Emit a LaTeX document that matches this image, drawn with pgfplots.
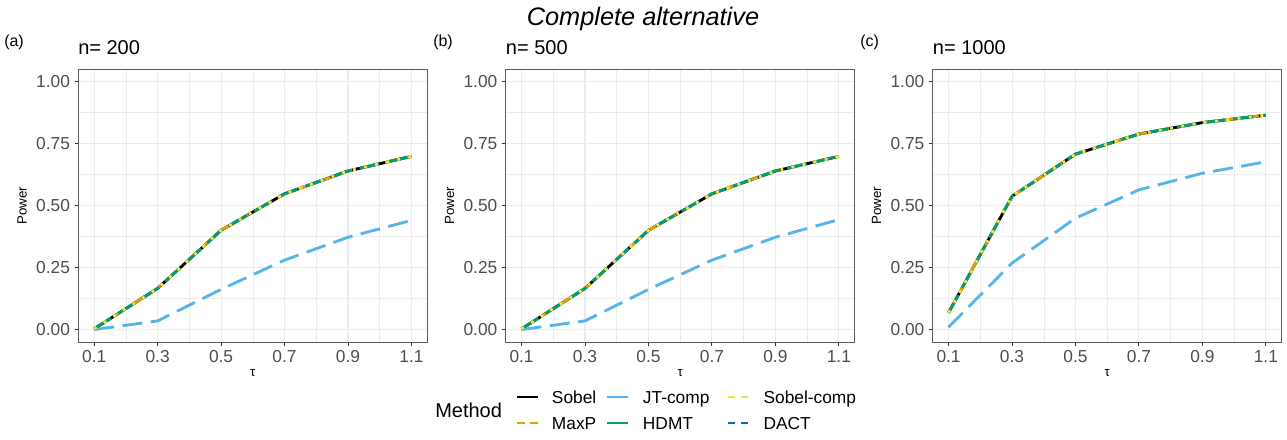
\documentclass[border=0pt]{standalone}
\usepackage{pgfplots}
\pgfplotsset{compat=1.18}
\usepackage{pgfplotstable}
\usepackage{fontspec}
\setmainfont{Liberation Sans}

\definecolor{cMaxP}{HTML}{E69F00}
\definecolor{cJT}{HTML}{56B4E9}
\definecolor{cHDMT}{HTML}{009E73}
\definecolor{cSC}{HTML}{F0E442}
\definecolor{cDACT}{HTML}{0072B2}
\definecolor{grey92}{HTML}{EBEBEB}
\definecolor{grey20}{HTML}{333333}
\definecolor{grey30}{HTML}{4D4D4D}

% n = 200
\pgfplotstableread{
tau sobel maxp jt hdmt sobelcomp dact
0.1 0.003 0.003 0.000 0.003 0.003 0.003
0.3 0.166 0.166 0.035 0.166 0.166 0.166
0.5 0.400 0.400 0.162 0.400 0.400 0.400
0.7 0.547 0.547 0.280 0.547 0.547 0.547
0.9 0.639 0.639 0.372 0.639 0.639 0.639
1.1 0.698 0.698 0.440 0.698 0.698 0.698
}\tA
% n = 500
\pgfplotstableread{
tau sobel maxp jt hdmt sobelcomp dact
0.1 0.003 0.003 0.000 0.003 0.003 0.003
0.3 0.166 0.166 0.035 0.166 0.166 0.166
0.5 0.400 0.400 0.162 0.400 0.400 0.400
0.7 0.547 0.547 0.280 0.547 0.547 0.547
0.9 0.639 0.639 0.372 0.639 0.639 0.639
1.1 0.698 0.698 0.443 0.698 0.698 0.698
}\tB
% n = 1000
\pgfplotstableread{
tau sobel maxp jt hdmt sobelcomp dact
0.1 0.068 0.068 0.010 0.068 0.068 0.068
0.3 0.537 0.537 0.268 0.537 0.537 0.537
0.5 0.707 0.707 0.449 0.707 0.707 0.707
0.7 0.788 0.788 0.563 0.788 0.788 0.788
0.9 0.834 0.834 0.630 0.834 0.834 0.834
1.1 0.864 0.864 0.676 0.864 0.864 0.864
}\tC

\tikzset{
  sobelline/.style={black, line width=2.13pt},
  maxpline/.style={cMaxP, line width=2.13pt, dash pattern=on 8.5pt off 8.5pt},
  jtline/.style={cJT, line width=2.13pt, dash pattern=on 15pt off 6.4pt},
  hdmtline/.style={cHDMT, line width=2.13pt, dash pattern=on 15pt off 6.4pt},
  scline/.style={cSC, line width=2.13pt, dash pattern=on 2.13pt off 6.4pt},
  dactline/.style={cDACT, line width=2.13pt, dash pattern=on 2.13pt off 6.4pt},
}

\pgfplotsset{
  panel/.style={
    scale only axis, width=261.75pt, height=204.75pt,
    xmin=0.05, xmax=1.15, ymin=-0.05, ymax=1.05,
    xtick={0.1,0.3,0.5,0.7,0.9,1.1},
    minor xtick={0.2,0.4,0.6,0.8,1.0},
    ytick={0,0.25,0.5,0.75,1},
    minor ytick={0.125,0.375,0.625,0.875},
    grid=both,
    major grid style={draw=grey92, line width=0.8pt},
    minor grid style={draw=grey92, line width=0.4pt},
    axis line style={draw=grey20!80, line width=0.7pt},
    tick pos=left, tick align=outside,
    major tick length=2.75pt, minor tick length=0pt,
    tick style={grey20, line width=0.7pt},
    no markers,
    every axis plot/.append style={line join=round, line cap=butt},
    ticklabel style={font=\fontsize{13}{13}\selectfont, text=grey30},
    xticklabel style={/pgf/number format/.cd, fixed, fixed zerofill, precision=1, assume math mode=true},
    yticklabel style={/pgf/number format/.cd, fixed, fixed zerofill, precision=2, assume math mode=true},
    xlabel={τ}, ylabel={Power},
    label style={font=\fontsize{12}{12}\selectfont},
    every axis x label/.style={at={(axis description cs:0.5,-0.114)}, anchor=center},
    every axis y label/.style={at={(axis description cs:-0.161,0.5)}, anchor=center, rotate=90},
  },
}

\newcommand{\panelplots}[1]{
  \addplot[dactline] table[x=tau, y=dact] {#1};
  \addplot[sobelline] table[x=tau, y=sobel] {#1};
  \addplot[maxpline] table[x=tau, y=maxp] {#1};
  \addplot[jtline] table[x=tau, y=jt] {#1};
  \addplot[hdmtline] table[x=tau, y=hdmt] {#1};
  \addplot[scline] table[x=tau, y=sobelcomp] {#1};
}

\begin{document}
\begin{tikzpicture}
\useasboundingbox (0,0) rectangle (965.25pt,329.25pt);

\begin{axis}[panel, at={(58.73pt,72.75pt)}, anchor=south west]
  \panelplots{\tA}
\end{axis}
\begin{axis}[panel, at={(379.28pt,72.75pt)}, anchor=south west]
  \panelplots{\tB}
\end{axis}
\begin{axis}[panel, at={(699.53pt,72.75pt)}, anchor=south west]
  \panelplots{\tC}
\end{axis}

% text and legend, placed in pixel units of the reference
\begin{scope}[x=0.75pt, y=-0.75pt, yshift=329.25pt]
  \node[anchor=base, inner sep=0pt, font=\fontsize{19}{19}\selectfont\itshape] at (643,26) {Complete alternative};

  \node[anchor=base west, inner sep=0pt, font=\fontsize{12}{12}\selectfont] at (4,47) {(a)};
  \node[anchor=base west, inner sep=0pt, font=\fontsize{12}{12}\selectfont] at (433,47) {(b)};
  \node[anchor=base west, inner sep=0pt, font=\fontsize{12}{12}\selectfont] at (860,47) {(c)};

  \node[anchor=base west, inner sep=0pt, font=\fontsize{15}{15}\selectfont] at (78,55) {n= 200};
  \node[anchor=base west, inner sep=0pt, font=\fontsize{15}{15}\selectfont] at (505.7,55) {n= 500};
  \node[anchor=base west, inner sep=0pt, font=\fontsize{15}{15}\selectfont] at (932.7,55) {n= 1000};

  % legend
  \node[anchor=base west, inner sep=0pt, font=\fontsize{15}{15}\selectfont] at (435,417) {Method};
  \draw[black, line width=2.13pt] (517,397) -- (538,397);
  \draw[cMaxP, line width=2.13pt, dash pattern=on 6pt off 3.75pt] (517,423) -- (538,423);
  \draw[cJT, line width=2.13pt] (607,397) -- (628,397);
  \draw[cHDMT, line width=2.13pt] (607,423) -- (628,423);
  \draw[cSC, line width=2.13pt, dash pattern=on 5pt off 5pt] (728,397) -- (749,397);
  \draw[cDACT, line width=2.13pt, dash pattern=on 5pt off 5pt] (728,423) -- (749,423);
  \begin{scope}[every node/.style={anchor=base west, inner sep=0pt, font=\fontsize{13}{13}\selectfont}]
    \node at (551.7,403) {Sobel};
    \node at (551.7,429) {MaxP};
    \node at (642.7,403) {JT-comp};
    \node at (642.7,429) {HDMT};
    \node at (763.3,403) {Sobel-comp};
    \node at (763.3,429) {DACT};
  \end{scope}
\end{scope}
\end{tikzpicture}
\end{document}
